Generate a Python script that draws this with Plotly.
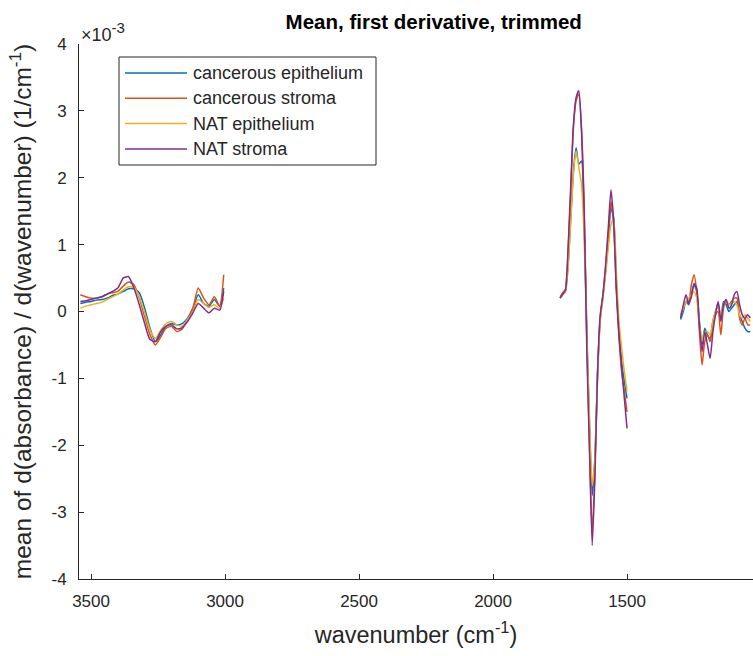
import plotly.graph_objects as go

# wavenumber grids of the three trimmed regions (cm^-1)
wn_high = [3540, 3520, 3500, 3480, 3460, 3440, 3420, 3400, 3380, 3360, 3340, 3320, 3300, 3280,
           3260, 3240, 3220, 3200, 3180, 3160, 3140, 3120, 3100, 3080, 3060, 3040, 3020, 3005]
wn_mid = [1750, 1740, 1730, 1720, 1710, 1700, 1690, 1680, 1670, 1660, 1650, 1640, 1630,
          1620, 1610, 1600, 1590, 1580, 1570, 1560, 1550, 1540, 1530, 1520, 1510, 1500]
wn_low = [1300, 1290, 1280, 1270, 1260, 1250, 1240, 1230, 1220, 1210, 1200, 1190, 1180, 1170,
          1160, 1150, 1140, 1130, 1120, 1110, 1100, 1090, 1080, 1070, 1060, 1050, 1040]

# mean first derivative, in units of 1e-3
ce_high = [0.12, 0.14, 0.15, 0.17, 0.18, 0.20, 0.24, 0.26, 0.30, 0.34, 0.34, 0.28, 0.05, -0.25,
           -0.45, -0.35, -0.22, -0.18, -0.20, -0.18, -0.10, 0.05, 0.25, 0.12, 0.08, 0.18, 0.08, 0.35]
ce_mid = [0.20, 0.25, 0.30, 0.70, 1.40, 2.10, 2.45, 2.20, 2.25, 1.30, -0.30, -1.70, -2.75,
          -2.20, -0.90, -0.10, 0.22, 0.60, 1.05, 1.55, 1.40, 0.45, -0.30, -0.75, -1.05, -1.30]
ce_low = [-0.12, 0.00, 0.15, 0.10, 0.25, 0.40, 0.30, -0.15, -0.50, -0.25, -0.35, -0.40, -0.15, 0.00,
          0.12, -0.10, 0.15, 0.10, 0.00, 0.05, 0.10, 0.15, -0.05, -0.15, -0.25, -0.30, -0.30]

cs_high = [0.25, 0.22, 0.20, 0.20, 0.22, 0.26, 0.28, 0.30, 0.38, 0.44, 0.40, 0.20, -0.08, -0.35,
           -0.50, -0.38, -0.25, -0.22, -0.30, -0.26, -0.12, 0.05, 0.35, 0.20, 0.10, 0.22, 0.08, 0.55]
cs_mid = [0.22, 0.28, 0.33, 0.90, 1.80, 2.75, 3.15, 3.25, 2.75, 1.60, -0.40, -2.00, -3.30,
          -2.40, -0.95, -0.10, 0.25, 0.65, 1.15, 1.64, 1.30, 0.30, -0.40, -0.90, -1.20, -1.50]
cs_low = [-0.05, 0.05, 0.15, 0.15, 0.40, 0.55, 0.30, -0.30, -0.80, -0.45, -0.35, -0.45, -0.20, -0.05,
          0.00, -0.35, 0.05, 0.15, 0.10, 0.15, 0.20, 0.20, -0.10, -0.20, -0.10, -0.20, -0.20]

ne_high = [0.05, 0.08, 0.10, 0.12, 0.14, 0.18, 0.22, 0.26, 0.32, 0.37, 0.36, 0.22, -0.02, -0.28,
           -0.40, -0.28, -0.18, -0.15, -0.20, -0.22, -0.12, 0.00, 0.18, 0.12, 0.06, 0.10, 0.05, 0.20]
ne_mid = [0.20, 0.25, 0.30, 0.65, 1.35, 2.05, 2.40, 2.15, 1.90, 1.10, -0.40, -1.60, -2.60,
          -2.20, -1.00, -0.15, 0.20, 0.55, 0.95, 1.30, 1.38, 0.60, -0.15, -0.55, -0.90, -1.20]
ne_low = [-0.08, 0.05, 0.15, 0.20, 0.25, 0.30, 0.20, -0.15, -0.45, -0.30, -0.30, -0.35, -0.15, 0.00,
          0.08, -0.05, 0.10, 0.15, 0.10, 0.12, 0.15, 0.10, -0.05, -0.10, -0.05, -0.10, -0.15]

ns_high = [0.15, 0.16, 0.18, 0.20, 0.22, 0.26, 0.30, 0.35, 0.50, 0.52, 0.35, 0.10, -0.18, -0.42,
           -0.45, -0.30, -0.22, -0.20, -0.26, -0.24, -0.15, -0.02, 0.12, 0.05, -0.02, 0.05, 0.02, 0.30]
ns_mid = [0.20, 0.26, 0.32, 0.95, 1.90, 2.80, 3.20, 3.30, 2.70, 1.50, -0.60, -2.10, -3.50,
          -2.50, -0.90, -0.05, 0.25, 0.70, 1.25, 1.82, 1.35, 0.35, -0.35, -0.85, -1.30, -1.75]
ns_low = [-0.10, 0.10, 0.25, 0.12, 0.22, 0.42, 0.35, -0.20, -0.60, -0.30, -0.50, -0.70, -0.32, -0.05,
          0.15, -0.15, 0.10, 0.18, 0.05, 0.10, 0.25, 0.30, 0.10, -0.05, -0.10, -0.05, -0.10]

names = ['cancerous epithelium', 'cancerous stroma', 'NAT epithelium', 'NAT stroma']
colors = ['#0072BD', '#D95319', '#EDB120', '#7E2F8E']
series = [(ce_high, ce_mid, ce_low), (cs_high, cs_mid, cs_low),
          (ne_high, ne_mid, ne_low), (ns_high, ns_mid, ns_low)]

y_ticks = [-4, -3, -2, -1, 0, 1, 2, 3, 4]
x_ticks = [3500, 3000, 2500, 2000, 1500]

x_all = wn_high + [None] + wn_mid + [None] + wn_low

font = 'Liberation Sans, Arial, sans-serif'
axcol = '#262626'

# plot area in pixels, used to place the hand-made legend
L, R, T, B = 79, 753, 44, 579
def px(x):
    return (x - L) / (R - L)
def py(y):
    return (B - y) / (B - T)

fig = go.Figure()
for name, col, (hi, mi, lo) in zip(names, colors, series):
    fig.add_trace(go.Scatter(
        x=x_all, y=hi + [None] + mi + [None] + lo,
        mode='lines', name=name, connectgaps=False, showlegend=False,
        line=dict(color=col, width=1.5, shape='spline', smoothing=0.6)))

# legend box like MATLAB's (long line samples)
shapes = [dict(type='rect', xref='paper', yref='paper', x0=px(119), x1=px(376),
               y0=py(165), y1=py(57), line=dict(color=axcol, width=1), fillcolor='white', layer='above')]
annotations = []
for i, (name, col) in enumerate(zip(names, colors)):
    yy = 73 + i * 25.3
    shapes.append(dict(type='line', xref='paper', yref='paper', x0=px(125), x1=px(187),
                       y0=py(yy), y1=py(yy), line=dict(color=col, width=1.5), layer='above'))
    annotations.append(dict(text=name, xref='paper', yref='paper', x=px(191), y=py(yy),
                            xanchor='left', yanchor='middle', showarrow=False,
                            font=dict(size=18, color=axcol)))

annotations.append(dict(text="\u00d710<sup><span style='font-size:15px'>-3</span></sup>",
                        xref='paper', yref='paper',
                        x=0, y=1, xanchor='left', yanchor='bottom', showarrow=False, yshift=-3,
                        font=dict(size=18, color=axcol)))

fig.update_layout(
    width=753, height=656,
    margin=dict(l=L, r=753 - R, t=T, b=656 - B),
    plot_bgcolor='white', paper_bgcolor='white',
    font=dict(family=font, color=axcol, size=17),
    title=dict(text='<b>Mean, first derivative, trimmed</b>', x=0.576, xanchor='center',
               y=1 - 22 / 656, yanchor='middle', font=dict(size=20.5, color='black')),
    showlegend=False,
    shapes=shapes,
    annotations=annotations,
    xaxis=dict(range=[3545, 1030], tickvals=x_ticks, ticktext=[str(v) for v in x_ticks],
               ticks='inside', ticklen=5, tickcolor=axcol, showline=True, automargin=False,
               linecolor=axcol, linewidth=1, showgrid=False, zeroline=False,
               tickfont=dict(size=17), ticklabelstandoff=7,
               title=dict(text='wavenumber (cm<sup>-1</sup>)', font=dict(size=23.5), standoff=16)),
    yaxis=dict(range=[-4, 4], tickvals=y_ticks, ticktext=[str(v) for v in y_ticks],
               ticks='inside', ticklen=5, tickcolor=axcol, showline=True, automargin=False,
               linecolor=axcol, linewidth=1, showgrid=False, zeroline=False,
               tickfont=dict(size=17), ticklabelstandoff=8,
               title=dict(text='mean of d(absorbance) / d(wavenumber) (1/cm<sup>-1</sup>)',
                          font=dict(size=24.5), standoff=12)),
)

# drop the page's default body margin so the figure sits at the window's corner
fig.write_html('out.html', config={'displayModeBar': False},
               post_script="document.body.style.margin='0';")
